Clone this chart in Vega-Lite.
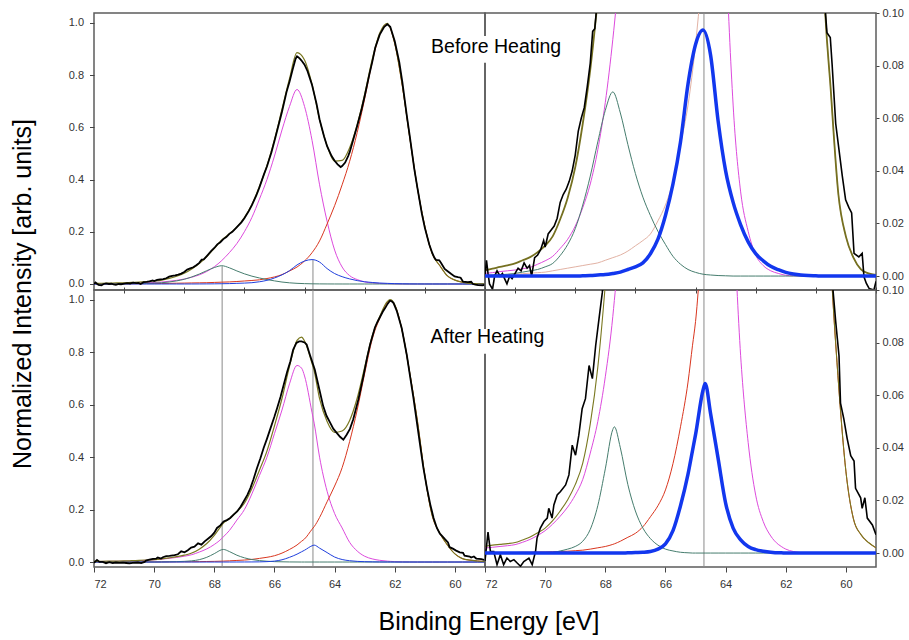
{
  "$schema": "https://vega.github.io/schema/vega-lite/v6.json",
  "background": "white",
  "padding": {"left": 9, "top": 6, "right": 0, "bottom": 0},
  "config": {
    "font": "Liberation Sans",
    "view": {"stroke": "#5c5c5c", "strokeWidth": 1.5},
    "axis": {
      "labelFont": "Liberation Sans",
      "labelFontSize": 11,
      "labelColor": "#333333",
      "tickColor": "#444444",
      "tickWidth": 1,
      "domain": false,
      "grid": false,
      "titleFont": "Liberation Sans",
      "titleFontWeight": "normal",
      "titleColor": "#000000"
    }
  },
  "datasets": {
    "markers": [
      {"e": 67.74, "peak": 0.068},
      {"e": 64.72, "peak": 0.093}
    ],
    "beforeFit": [
      {"e": 72, "fit": 0.0022, "p1": 0.001, "p2": 0.0003, "p3": 0.0001, "p4": 0},
      {"e": 71.75, "fit": 0.0028, "p1": 0.0013, "p2": 0.0004, "p3": 0.0003, "p4": 0},
      {"e": 71.5, "fit": 0.0035, "p1": 0.0017, "p2": 0.0005, "p3": 0.0005, "p4": 0},
      {"e": 71.25, "fit": 0.0041, "p1": 0.002, "p2": 0.0006, "p3": 0.0007, "p4": 0},
      {"e": 71, "fit": 0.0048, "p1": 0.0023, "p2": 0.0007, "p3": 0.001, "p4": 0},
      {"e": 70.75, "fit": 0.006, "p1": 0.0028, "p2": 0.0009, "p3": 0.0015, "p4": 0},
      {"e": 70.5, "fit": 0.0072, "p1": 0.0033, "p2": 0.0011, "p3": 0.002, "p4": 0},
      {"e": 70.25, "fit": 0.0091, "p1": 0.0045, "p2": 0.0013, "p3": 0.0025, "p4": 0},
      {"e": 70, "fit": 0.0116, "p1": 0.0058, "p2": 0.0015, "p3": 0.0035, "p4": 0},
      {"e": 69.75, "fit": 0.0151, "p1": 0.0075, "p2": 0.002, "p3": 0.0048, "p4": 0},
      {"e": 69.5, "fit": 0.0216, "p1": 0.0105, "p2": 0.0025, "p3": 0.0078, "p4": 0},
      {"e": 69.25, "fit": 0.0298, "p1": 0.014, "p2": 0.003, "p3": 0.012, "p4": 0},
      {"e": 69, "fit": 0.0413, "p1": 0.019, "p2": 0.0035, "p3": 0.018, "p4": 0},
      {"e": 68.75, "fit": 0.0579, "p1": 0.026, "p2": 0.004, "p3": 0.027, "p4": 0.0001},
      {"e": 68.5, "fit": 0.0785, "p1": 0.035, "p2": 0.0045, "p3": 0.038, "p4": 0.0002},
      {"e": 68.25, "fit": 0.1052, "p1": 0.048, "p2": 0.005, "p3": 0.051, "p4": 0.0004},
      {"e": 68, "fit": 0.1364, "p1": 0.066, "p2": 0.006, "p3": 0.063, "p4": 0.0006},
      {"e": 67.75, "fit": 0.1688, "p1": 0.09, "p2": 0.007, "p3": 0.07, "p4": 0.001},
      {"e": 67.5, "fit": 0.1923, "p1": 0.12, "p2": 0.008, "p3": 0.062, "p4": 0.0015},
      {"e": 67.25, "fit": 0.2178, "p1": 0.155, "p2": 0.0095, "p3": 0.05, "p4": 0.0025},
      {"e": 67, "fit": 0.2548, "p1": 0.2, "p2": 0.0115, "p3": 0.039, "p4": 0.0035},
      {"e": 66.75, "fit": 0.3043, "p1": 0.255, "p2": 0.0135, "p3": 0.03, "p4": 0.005},
      {"e": 66.5, "fit": 0.3733, "p1": 0.325, "p2": 0.016, "p3": 0.023, "p4": 0.0085},
      {"e": 66.25, "fit": 0.4528, "p1": 0.4, "p2": 0.021, "p3": 0.017, "p4": 0.014},
      {"e": 66, "fit": 0.5528, "p1": 0.49, "p2": 0.027, "p3": 0.012, "p4": 0.023},
      {"e": 65.75, "fit": 0.6693, "p1": 0.59, "p2": 0.036, "p3": 0.0075, "p4": 0.035},
      {"e": 65.5, "fit": 0.7863, "p1": 0.68, "p2": 0.05, "p3": 0.0045, "p4": 0.051},
      {"e": 65.25, "fit": 0.8863, "p1": 0.745, "p2": 0.065, "p3": 0.0025, "p4": 0.073},
      {"e": 65, "fit": 0.8582, "p1": 0.68, "p2": 0.088, "p3": 0.0014, "p4": 0.088},
      {"e": 64.75, "fit": 0.7646, "p1": 0.55, "p2": 0.12, "p3": 0.0007, "p4": 0.0935},
      {"e": 64.5, "fit": 0.6298, "p1": 0.38, "p2": 0.165, "p3": 0.0004, "p4": 0.084},
      {"e": 64.25, "fit": 0.5296, "p1": 0.24, "p2": 0.23, "p3": 0.0002, "p4": 0.059},
      {"e": 64, "fit": 0.4705, "p1": 0.13, "p2": 0.3, "p3": 0.0001, "p4": 0.04},
      {"e": 63.75, "fit": 0.4734, "p1": 0.065, "p2": 0.38, "p3": 0, "p4": 0.028},
      {"e": 63.5, "fit": 0.5219, "p1": 0.032, "p2": 0.47, "p3": 0, "p4": 0.0195},
      {"e": 63.25, "fit": 0.6104, "p1": 0.017, "p2": 0.58, "p3": 0, "p4": 0.013},
      {"e": 63, "fit": 0.7269, "p1": 0.008, "p2": 0.71, "p3": 0, "p4": 0.0085},
      {"e": 62.75, "fit": 0.8602, "p1": 0.004, "p2": 0.85, "p3": 0, "p4": 0.0058},
      {"e": 62.5, "fit": 0.9611, "p1": 0.002, "p2": 0.955, "p3": 0, "p4": 0.0037},
      {"e": 62.25, "fit": 0.9988, "p1": 0.001, "p2": 0.995, "p3": 0, "p4": 0.0024},
      {"e": 62, "fit": 0.9221, "p1": 0.0003, "p2": 0.92, "p3": 0, "p4": 0.0014},
      {"e": 61.75, "fit": 0.7613, "p1": 0.0001, "p2": 0.76, "p3": 0, "p4": 0.0008},
      {"e": 61.5, "fit": 0.5604, "p1": 0, "p2": 0.56, "p3": 0, "p4": 0.0004},
      {"e": 61.25, "fit": 0.3702, "p1": 0, "p2": 0.37, "p3": 0, "p4": 0.0002},
      {"e": 61, "fit": 0.2201, "p1": 0, "p2": 0.22, "p3": 0, "p4": 0.0001},
      {"e": 60.75, "fit": 0.115, "p1": 0, "p2": 0.115, "p3": 0, "p4": 0},
      {"e": 60.5, "fit": 0.07, "p1": 0, "p2": 0.07, "p3": 0, "p4": 0},
      {"e": 60.25, "fit": 0.031, "p1": 0, "p2": 0.031, "p3": 0, "p4": 0},
      {"e": 60, "fit": 0.015, "p1": 0, "p2": 0.015, "p3": 0, "p4": 0},
      {"e": 59.75, "fit": 0.007, "p1": 0, "p2": 0.007, "p3": 0, "p4": 0},
      {"e": 59.5, "fit": 0.0025, "p1": 0, "p2": 0.0025, "p3": 0, "p4": 0},
      {"e": 59.25, "fit": 0.001, "p1": 0, "p2": 0.001, "p3": 0, "p4": 0},
      {"e": 59, "fit": 0.0004, "p1": 0, "p2": 0.0004, "p3": 0, "p4": 0}
    ],
    "beforeData": [
      {"e": 72, "v": 0}, {"e": 71.95, "v": 0.006}, {"e": 71.9, "v": 0.001}, {"e": 71.85, "v": -0.003},
      {"e": 71.75, "v": -0.005}, {"e": 71.68, "v": 0}, {"e": 71.6, "v": 0.002}, {"e": 71.5, "v": 0},
      {"e": 71.42, "v": 0.001}, {"e": 71.35, "v": -0.001}, {"e": 71.27, "v": -0.003}, {"e": 71.18, "v": 0},
      {"e": 71.1, "v": -0.001}, {"e": 71, "v": 0.001}, {"e": 70.9, "v": 0.003}, {"e": 70.8, "v": 0.002},
      {"e": 70.7, "v": 0.005}, {"e": 70.6, "v": 0.003}, {"e": 70.52, "v": 0.004}, {"e": 70.45, "v": 0},
      {"e": 70.35, "v": 0.007}, {"e": 70.25, "v": 0.008}, {"e": 70.15, "v": 0.01}, {"e": 70.05, "v": 0.0135},
      {"e": 70, "v": 0.011}, {"e": 69.9, "v": 0.016}, {"e": 69.8, "v": 0.0175}, {"e": 69.7, "v": 0.019},
      {"e": 69.6, "v": 0.022}, {"e": 69.5, "v": 0.028}, {"e": 69.4, "v": 0.031}, {"e": 69.3, "v": 0.033},
      {"e": 69.2, "v": 0.036}, {"e": 69.1, "v": 0.04}, {"e": 69, "v": 0.046}, {"e": 68.9, "v": 0.055},
      {"e": 68.8, "v": 0.06}, {"e": 68.7, "v": 0.064}, {"e": 68.6, "v": 0.072}, {"e": 68.5, "v": 0.081},
      {"e": 68.42, "v": 0.093}, {"e": 68.35, "v": 0.094}, {"e": 68.25, "v": 0.107}, {"e": 68.1, "v": 0.127},
      {"e": 68, "v": 0.138}, {"e": 67.9, "v": 0.152}, {"e": 67.8, "v": 0.16}, {"e": 67.7, "v": 0.172},
      {"e": 67.6, "v": 0.18}, {"e": 67.5, "v": 0.192}, {"e": 67.4, "v": 0.2}, {"e": 67.25, "v": 0.218},
      {"e": 67.1, "v": 0.236}, {"e": 67, "v": 0.252}, {"e": 66.85, "v": 0.28}, {"e": 66.75, "v": 0.302},
      {"e": 66.6, "v": 0.34}, {"e": 66.5, "v": 0.37}, {"e": 66.35, "v": 0.42}, {"e": 66.25, "v": 0.45},
      {"e": 66.1, "v": 0.505}, {"e": 66, "v": 0.548}, {"e": 65.85, "v": 0.615}, {"e": 65.75, "v": 0.66},
      {"e": 65.6, "v": 0.735}, {"e": 65.5, "v": 0.775}, {"e": 65.4, "v": 0.82}, {"e": 65.3, "v": 0.862},
      {"e": 65.25, "v": 0.872}, {"e": 65.2, "v": 0.868}, {"e": 65.15, "v": 0.862}, {"e": 65.1, "v": 0.856},
      {"e": 65, "v": 0.84}, {"e": 64.9, "v": 0.815}, {"e": 64.75, "v": 0.762}, {"e": 64.6, "v": 0.69},
      {"e": 64.5, "v": 0.63}, {"e": 64.35, "v": 0.565}, {"e": 64.25, "v": 0.528}, {"e": 64.1, "v": 0.49},
      {"e": 64, "v": 0.472}, {"e": 63.9, "v": 0.458}, {"e": 63.8, "v": 0.448}, {"e": 63.75, "v": 0.452},
      {"e": 63.65, "v": 0.465}, {"e": 63.55, "v": 0.49}, {"e": 63.5, "v": 0.505}, {"e": 63.4, "v": 0.545},
      {"e": 63.25, "v": 0.605}, {"e": 63.1, "v": 0.67}, {"e": 63, "v": 0.72}, {"e": 62.85, "v": 0.8},
      {"e": 62.75, "v": 0.85}, {"e": 62.65, "v": 0.905}, {"e": 62.5, "v": 0.955}, {"e": 62.35, "v": 0.985},
      {"e": 62.25, "v": 0.995}, {"e": 62.15, "v": 0.985}, {"e": 62, "v": 0.93}, {"e": 61.85, "v": 0.85},
      {"e": 61.75, "v": 0.775}, {"e": 61.6, "v": 0.645}, {"e": 61.5, "v": 0.565}, {"e": 61.35, "v": 0.44},
      {"e": 61.25, "v": 0.37}, {"e": 61.1, "v": 0.27}, {"e": 61, "v": 0.215}, {"e": 60.85, "v": 0.15},
      {"e": 60.75, "v": 0.118}, {"e": 60.68, "v": 0.1}, {"e": 60.63, "v": 0.0925}, {"e": 60.52, "v": 0.0907},
      {"e": 60.46, "v": 0.0806}, {"e": 60.34, "v": 0.058}, {"e": 60.23, "v": 0.048}, {"e": 60.12, "v": 0.038},
      {"e": 60.01, "v": 0.029}, {"e": 59.9, "v": 0.026}, {"e": 59.81, "v": 0.024}, {"e": 59.73, "v": 0.0086},
      {"e": 59.57, "v": 0.0073}, {"e": 59.46, "v": 0.0086}, {"e": 59.4, "v": -0.0003}, {"e": 59.32, "v": -0.0028},
      {"e": 59.23, "v": -0.0047}, {"e": 59.07, "v": -0.0053}, {"e": 59, "v": -0.002}
    ],
    "afterFit": [
      {"e": 72, "fit": 0.0026, "p1": 0.0019, "p2": 0.0001, "p3": 0, "p4": 0},
      {"e": 71.75, "fit": 0.003, "p1": 0.0022, "p2": 0.0002, "p3": 0, "p4": 0},
      {"e": 71.5, "fit": 0.0033, "p1": 0.0025, "p2": 0.0002, "p3": 0, "p4": 0},
      {"e": 71.25, "fit": 0.0036, "p1": 0.0028, "p2": 0.0002, "p3": 0, "p4": 0},
      {"e": 71, "fit": 0.004, "p1": 0.0032, "p2": 0.0002, "p3": 0, "p4": 0},
      {"e": 70.75, "fit": 0.005, "p1": 0.0041, "p2": 0.0003, "p3": 0, "p4": 0},
      {"e": 70.5, "fit": 0.0061, "p1": 0.0052, "p2": 0.0003, "p3": 0, "p4": 0},
      {"e": 70.25, "fit": 0.0077, "p1": 0.0067, "p2": 0.0004, "p3": 0, "p4": 0},
      {"e": 70, "fit": 0.0095, "p1": 0.0085, "p2": 0.0004, "p3": 0, "p4": 0},
      {"e": 69.75, "fit": 0.0123, "p1": 0.011, "p2": 0.0005, "p3": 0.0002, "p4": 0},
      {"e": 69.5, "fit": 0.016, "p1": 0.014, "p2": 0.0006, "p3": 0.0008, "p4": 0},
      {"e": 69.25, "fit": 0.0203, "p1": 0.0175, "p2": 0.0007, "p3": 0.0015, "p4": 0},
      {"e": 69, "fit": 0.026, "p1": 0.022, "p2": 0.0009, "p3": 0.0025, "p4": 0},
      {"e": 68.75, "fit": 0.0342, "p1": 0.028, "p2": 0.0011, "p3": 0.0045, "p4": 0},
      {"e": 68.5, "fit": 0.0491, "p1": 0.038, "p2": 0.0015, "p3": 0.009, "p4": 0},
      {"e": 68.25, "fit": 0.0706, "p1": 0.05, "p2": 0.002, "p3": 0.018, "p4": 0},
      {"e": 68, "fit": 0.1021, "p1": 0.067, "p2": 0.0025, "p3": 0.032, "p4": 0},
      {"e": 67.75, "fit": 0.1409, "p1": 0.09, "p2": 0.0033, "p3": 0.047, "p4": 0},
      {"e": 67.7, "fit": 0.1481, "p1": 0.096, "p2": 0.0035, "p3": 0.048, "p4": 0},
      {"e": 67.5, "fit": 0.1651, "p1": 0.12, "p2": 0.0045, "p3": 0.04, "p4": 0},
      {"e": 67.25, "fit": 0.1927, "p1": 0.16, "p2": 0.006, "p3": 0.026, "p4": 0.0001},
      {"e": 67, "fit": 0.2243, "p1": 0.2, "p2": 0.0075, "p3": 0.016, "p4": 0.0002},
      {"e": 66.75, "fit": 0.2804, "p1": 0.26, "p2": 0.01, "p3": 0.0095, "p4": 0.0003},
      {"e": 66.5, "fit": 0.3505, "p1": 0.33, "p2": 0.0138, "p3": 0.0055, "p4": 0.0006},
      {"e": 66.25, "fit": 0.4231, "p1": 0.4, "p2": 0.018, "p3": 0.003, "p4": 0.0015},
      {"e": 66, "fit": 0.5196, "p1": 0.49, "p2": 0.024, "p3": 0.0015, "p4": 0.0035},
      {"e": 65.75, "fit": 0.6239, "p1": 0.58, "p2": 0.034, "p3": 0.0008, "p4": 0.0085},
      {"e": 65.5, "fit": 0.7469, "p1": 0.68, "p2": 0.048, "p3": 0.0003, "p4": 0.018},
      {"e": 65.25, "fit": 0.8457, "p1": 0.75, "p2": 0.065, "p3": 0.0001, "p4": 0.03},
      {"e": 65.1, "fit": 0.8583, "p1": 0.74, "p2": 0.079, "p3": 0, "p4": 0.039},
      {"e": 65, "fit": 0.8433, "p1": 0.71, "p2": 0.088, "p3": 0, "p4": 0.045},
      {"e": 64.75, "fit": 0.7573, "p1": 0.57, "p2": 0.125, "p3": 0, "p4": 0.062},
      {"e": 64.68, "fit": 0.7298, "p1": 0.53, "p2": 0.135, "p3": 0, "p4": 0.0645},
      {"e": 64.5, "fit": 0.6233, "p1": 0.4, "p2": 0.17, "p3": 0, "p4": 0.053},
      {"e": 64.25, "fit": 0.5363, "p1": 0.27, "p2": 0.23, "p3": 0, "p4": 0.036},
      {"e": 64, "fit": 0.4943, "p1": 0.185, "p2": 0.29, "p3": 0, "p4": 0.019},
      {"e": 63.75, "fit": 0.4998, "p1": 0.13, "p2": 0.36, "p3": 0, "p4": 0.0095},
      {"e": 63.5, "fit": 0.5403, "p1": 0.075, "p2": 0.46, "p3": 0, "p4": 0.005},
      {"e": 63.25, "fit": 0.6248, "p1": 0.042, "p2": 0.58, "p3": 0, "p4": 0.0025},
      {"e": 63, "fit": 0.7436, "p1": 0.022, "p2": 0.72, "p3": 0, "p4": 0.0013},
      {"e": 62.75, "fit": 0.863, "p1": 0.012, "p2": 0.85, "p3": 0, "p4": 0.0007},
      {"e": 62.5, "fit": 0.9371, "p1": 0.0065, "p2": 0.93, "p3": 0, "p4": 0.0003},
      {"e": 62.25, "fit": 0.9937, "p1": 0.0033, "p2": 0.99, "p3": 0, "p4": 0.0001},
      {"e": 62.15, "fit": 1.001, "p1": 0.0025, "p2": 0.998, "p3": 0, "p4": 0.0001},
      {"e": 62, "fit": 0.9818, "p1": 0.0015, "p2": 0.98, "p3": 0, "p4": 0},
      {"e": 61.75, "fit": 0.8806, "p1": 0.0006, "p2": 0.88, "p3": 0, "p4": 0},
      {"e": 61.5, "fit": 0.7202, "p1": 0.0002, "p2": 0.72, "p3": 0, "p4": 0},
      {"e": 61.25, "fit": 0.54, "p1": 0, "p2": 0.54, "p3": 0, "p4": 0},
      {"e": 61, "fit": 0.33, "p1": 0, "p2": 0.33, "p3": 0, "p4": 0},
      {"e": 60.75, "fit": 0.175, "p1": 0, "p2": 0.175, "p3": 0, "p4": 0},
      {"e": 60.5, "fit": 0.11, "p1": 0, "p2": 0.11, "p3": 0, "p4": 0},
      {"e": 60.25, "fit": 0.065, "p1": 0, "p2": 0.065, "p3": 0, "p4": 0},
      {"e": 60, "fit": 0.031, "p1": 0, "p2": 0.031, "p3": 0, "p4": 0},
      {"e": 59.75, "fit": 0.013, "p1": 0, "p2": 0.013, "p3": 0, "p4": 0},
      {"e": 59.5, "fit": 0.007, "p1": 0, "p2": 0.007, "p3": 0, "p4": 0},
      {"e": 59.25, "fit": 0.004, "p1": 0, "p2": 0.004, "p3": 0, "p4": 0},
      {"e": 59, "fit": 0.002, "p1": 0, "p2": 0.002, "p3": 0, "p4": 0}
    ],
    "afterData": [
      {"e": 72, "v": -0.003}, {"e": 71.9, "v": 0.008}, {"e": 71.82, "v": 0.0006}, {"e": 71.71, "v": 0.0006},
      {"e": 71.6, "v": -0.0044}, {"e": 71.49, "v": -0.0006}, {"e": 71.38, "v": -0.0044}, {"e": 71.27, "v": -0.0019},
      {"e": 71.16, "v": -0.0032}, {"e": 71.04, "v": -0.0025}, {"e": 70.93, "v": -0.0038}, {"e": 70.82, "v": -0.005},
      {"e": 70.71, "v": -0.0032}, {"e": 70.54, "v": -0.0019}, {"e": 70.43, "v": -0.0044}, {"e": 70.32, "v": 0.0006},
      {"e": 70.27, "v": 0.0057}, {"e": 70.16, "v": 0.0095}, {"e": 70.04, "v": 0.012}, {"e": 69.93, "v": 0.0133},
      {"e": 69.88, "v": 0.017}, {"e": 69.77, "v": 0.0133}, {"e": 69.71, "v": 0.0183}, {"e": 69.6, "v": 0.0221},
      {"e": 69.49, "v": 0.0234}, {"e": 69.32, "v": 0.0259}, {"e": 69.21, "v": 0.0297}, {"e": 69.1, "v": 0.041},
      {"e": 68.99, "v": 0.0372}, {"e": 68.88, "v": 0.0448}, {"e": 68.77, "v": 0.0549}, {"e": 68.66, "v": 0.0587},
      {"e": 68.54, "v": 0.0713}, {"e": 68.43, "v": 0.0663}, {"e": 68.32, "v": 0.0789}, {"e": 68.21, "v": 0.089},
      {"e": 68.1, "v": 0.099}, {"e": 68, "v": 0.112}, {"e": 67.91, "v": 0.13}, {"e": 67.8, "v": 0.14},
      {"e": 67.69, "v": 0.155}, {"e": 67.58, "v": 0.16}, {"e": 67.47, "v": 0.168}, {"e": 67.35, "v": 0.182},
      {"e": 67.24, "v": 0.193}, {"e": 67.12, "v": 0.212}, {"e": 67.02, "v": 0.232}, {"e": 66.9, "v": 0.256},
      {"e": 66.8, "v": 0.282}, {"e": 66.7, "v": 0.315}, {"e": 66.58, "v": 0.359}, {"e": 66.47, "v": 0.395},
      {"e": 66.36, "v": 0.435}, {"e": 66.25, "v": 0.47}, {"e": 66.13, "v": 0.511}, {"e": 66, "v": 0.555},
      {"e": 65.91, "v": 0.588}, {"e": 65.8, "v": 0.63}, {"e": 65.69, "v": 0.677}, {"e": 65.58, "v": 0.725},
      {"e": 65.47, "v": 0.766}, {"e": 65.38, "v": 0.81}, {"e": 65.27, "v": 0.836}, {"e": 65.18, "v": 0.842},
      {"e": 65.1, "v": 0.842}, {"e": 65, "v": 0.838}, {"e": 64.93, "v": 0.83}, {"e": 64.82, "v": 0.79},
      {"e": 64.66, "v": 0.735}, {"e": 64.49, "v": 0.65}, {"e": 64.38, "v": 0.595}, {"e": 64.27, "v": 0.558},
      {"e": 64.15, "v": 0.532}, {"e": 64.04, "v": 0.508}, {"e": 63.93, "v": 0.493}, {"e": 63.82, "v": 0.478},
      {"e": 63.71, "v": 0.467}, {"e": 63.6, "v": 0.486}, {"e": 63.49, "v": 0.508}, {"e": 63.38, "v": 0.545},
      {"e": 63.21, "v": 0.62}, {"e": 63.04, "v": 0.71}, {"e": 62.92, "v": 0.78}, {"e": 62.82, "v": 0.83},
      {"e": 62.66, "v": 0.895}, {"e": 62.58, "v": 0.915}, {"e": 62.49, "v": 0.935}, {"e": 62.4, "v": 0.955},
      {"e": 62.32, "v": 0.969}, {"e": 62.24, "v": 0.985}, {"e": 62.16, "v": 0.997}, {"e": 62.1, "v": 0.995},
      {"e": 62.04, "v": 0.988}, {"e": 61.93, "v": 0.957}, {"e": 61.77, "v": 0.893}, {"e": 61.6, "v": 0.79},
      {"e": 61.5, "v": 0.715}, {"e": 61.38, "v": 0.626}, {"e": 61.28, "v": 0.545}, {"e": 61.16, "v": 0.448},
      {"e": 61.05, "v": 0.36}, {"e": 60.93, "v": 0.282}, {"e": 60.82, "v": 0.22}, {"e": 60.71, "v": 0.168},
      {"e": 60.6, "v": 0.13}, {"e": 60.5, "v": 0.108}, {"e": 60.43, "v": 0.1}, {"e": 60.34, "v": 0.088},
      {"e": 60.23, "v": 0.075}, {"e": 60.18, "v": 0.057}, {"e": 60.07, "v": 0.051}, {"e": 59.96, "v": 0.0436},
      {"e": 59.84, "v": 0.037}, {"e": 59.73, "v": 0.035}, {"e": 59.68, "v": 0.0246}, {"e": 59.51, "v": 0.021},
      {"e": 59.46, "v": 0.017}, {"e": 59.37, "v": 0.021}, {"e": 59.29, "v": 0.0133}, {"e": 59.12, "v": 0.0107},
      {"e": 59, "v": 0.007}
    ]
  },
  "columns": 2,
  "spacing": 0,
  "bounds": "flush",
  "resolve": {"scale": {"x": "independent", "y": "independent"}, "axis": {"x": "independent", "y": "independent"}},
  "concat": [
    {
      "width": 391,
      "height": 277,
      "layer": [
        {
          "data": {"name": "markers"},
          "mark": {"type": "rule", "color": "#8a8a8a", "strokeWidth": 1},
          "encoding": {
            "x": {"field": "e", "type": "quantitative", "scale": {"domain": [59, 72], "reverse": true, "nice": false, "zero": false},
              "axis": {"values": [72, 71, 70, 69, 68, 67, 66, 65, 64, 63, 62, 61, 60, 59], "labels": false, "title": null,
                "tickSize": {"condition": {"test": "datum.value % 2 === 0", "value": 5}, "value": 3}}},
            "y": {"field": "peak", "type": "quantitative", "scale": {"domain": [-0.023, 1.038], "nice": false, "zero": false},
              "axis": {"values": [0, 0.1, 0.2, 0.3, 0.4, 0.5, 0.6, 0.7, 0.8, 0.9, 1],
                "labelExpr": "round(datum.value * 10) % 2 === 0 ? format(datum.value, '.1f') : ''",
                "tickSize": {"condition": {"test": "round(datum.value * 10) % 2 === 0", "value": 4.5}, "value": 3},
                "labelPadding": 6,
                "title": "Normalized Intensity [arb. units]", "titleFontSize": 25, "titleX": -72, "titleY": 280.5,
                "titleAngle": -90, "titleAlign": "center", "titleBaseline": "middle"}},
            "y2": {"datum": -0.023}
          }
        },
        {
          "data": {"name": "beforeFit"},
          "mark": {"type": "line", "color": "#dd4add", "strokeWidth": 1, "interpolate": "monotone", "clip": true},
          "encoding": {
            "x": {"field": "e", "type": "quantitative", "scale": {"domain": [59, 72], "reverse": true, "nice": false, "zero": false}},
            "y": {"field": "p1", "type": "quantitative", "scale": {"domain": [-0.023, 1.038], "nice": false, "zero": false}}
          }
        },
        {
          "data": {"name": "beforeFit"},
          "mark": {"type": "line", "color": "#d9361f", "strokeWidth": 1, "interpolate": "monotone", "clip": true},
          "encoding": {
            "x": {"field": "e", "type": "quantitative", "scale": {"domain": [59, 72], "reverse": true, "nice": false, "zero": false}},
            "y": {"field": "p2", "type": "quantitative", "scale": {"domain": [-0.023, 1.038], "nice": false, "zero": false}}
          }
        },
        {
          "data": {"name": "beforeFit"},
          "mark": {"type": "line", "color": "#467d6e", "strokeWidth": 1, "interpolate": "monotone", "clip": true},
          "encoding": {
            "x": {"field": "e", "type": "quantitative", "scale": {"domain": [59, 72], "reverse": true, "nice": false, "zero": false}},
            "y": {"field": "p3", "type": "quantitative", "scale": {"domain": [-0.023, 1.038], "nice": false, "zero": false}}
          }
        },
        {
          "data": {"name": "beforeFit"},
          "mark": {"type": "line", "color": "#1f3fdd", "strokeWidth": 1, "interpolate": "monotone", "clip": true},
          "encoding": {
            "x": {"field": "e", "type": "quantitative", "scale": {"domain": [59, 72], "reverse": true, "nice": false, "zero": false}},
            "y": {"field": "p4", "type": "quantitative", "scale": {"domain": [-0.023, 1.038], "nice": false, "zero": false}}
          }
        },
        {
          "data": {"name": "beforeFit"},
          "mark": {"type": "line", "color": "#7a7820", "strokeWidth": 1.2, "interpolate": "monotone", "clip": true},
          "encoding": {
            "x": {"field": "e", "type": "quantitative", "scale": {"domain": [59, 72], "reverse": true, "nice": false, "zero": false}},
            "y": {"field": "fit", "type": "quantitative", "scale": {"domain": [-0.023, 1.038], "nice": false, "zero": false}}
          }
        },
        {
          "data": {"name": "beforeData"},
          "mark": {"type": "line", "color": "#000000", "strokeWidth": 1.8, "clip": true},
          "encoding": {
            "x": {"field": "e", "type": "quantitative", "scale": {"domain": [59, 72], "reverse": true, "nice": false, "zero": false}},
            "y": {"field": "v", "type": "quantitative", "scale": {"domain": [-0.023, 1.038], "nice": false, "zero": false}}
          }
        }
      ]
    },
    {
      "width": 391,
      "height": 277,
      "layer": [
        {
          "data": {"name": "markers"},
          "transform": [{"filter": "datum.e < 66"}],
          "mark": {"type": "rule", "color": "#8a8a8a", "strokeWidth": 1},
          "encoding": {
            "x": {"field": "e", "type": "quantitative", "scale": {"domain": [59, 72], "reverse": true, "nice": false, "zero": false},
              "axis": {"values": [72, 71, 70, 69, 68, 67, 66, 65, 64, 63, 62, 61, 60, 59], "labels": false, "title": null,
                "tickSize": {"condition": {"test": "datum.value % 2 === 0", "value": 5}, "value": 3}}}
          }
        },
        {
          "data": {"name": "beforeFit"},
          "mark": {"type": "line", "color": "#dd4add", "strokeWidth": 1, "interpolate": "monotone", "clip": true},
          "encoding": {
            "x": {"field": "e", "type": "quantitative", "scale": {"domain": [59, 72], "reverse": true, "nice": false, "zero": false}},
            "y": {"field": "p1", "type": "quantitative", "scale": {"domain": [-0.0053, 0.1], "nice": false, "zero": false},
              "axis": {"orient": "right", "values": [0, 0.02, 0.04, 0.06, 0.08, 0.1], "format": ".2f", "tickSize": 3, "labelPadding": 3, "title": null}}
          }
        },
        {
          "data": {"name": "beforeFit"},
          "mark": {"type": "line", "color": "#e2b2a4", "strokeWidth": 1, "interpolate": "monotone", "clip": true},
          "encoding": {
            "x": {"field": "e", "type": "quantitative", "scale": {"domain": [59, 72], "reverse": true, "nice": false, "zero": false}},
            "y": {"field": "p2", "type": "quantitative", "scale": {"domain": [-0.0053, 0.1], "nice": false, "zero": false}}
          }
        },
        {
          "data": {"name": "beforeFit"},
          "mark": {"type": "line", "color": "#467d6e", "strokeWidth": 1, "interpolate": "monotone", "clip": true},
          "encoding": {
            "x": {"field": "e", "type": "quantitative", "scale": {"domain": [59, 72], "reverse": true, "nice": false, "zero": false}},
            "y": {"field": "p3", "type": "quantitative", "scale": {"domain": [-0.0053, 0.1], "nice": false, "zero": false}}
          }
        },
        {
          "data": {"name": "beforeFit"},
          "mark": {"type": "line", "color": "#757020", "strokeWidth": 1.8, "interpolate": "monotone", "clip": true},
          "encoding": {
            "x": {"field": "e", "type": "quantitative", "scale": {"domain": [59, 72], "reverse": true, "nice": false, "zero": false}},
            "y": {"field": "fit", "type": "quantitative", "scale": {"domain": [-0.0053, 0.1], "nice": false, "zero": false}}
          }
        },
        {
          "data": {"name": "beforeData"},
          "mark": {"type": "line", "color": "#000000", "strokeWidth": 1.6, "clip": true},
          "encoding": {
            "x": {"field": "e", "type": "quantitative", "scale": {"domain": [59, 72], "reverse": true, "nice": false, "zero": false}},
            "y": {"field": "v", "type": "quantitative", "scale": {"domain": [-0.0053, 0.1], "nice": false, "zero": false}}
          }
        },
        {
          "data": {"name": "beforeFit"},
          "mark": {"type": "line", "color": "#1237ee", "strokeWidth": 3.5, "interpolate": "monotone", "clip": true},
          "encoding": {
            "x": {"field": "e", "type": "quantitative", "scale": {"domain": [59, 72], "reverse": true, "nice": false, "zero": false}},
            "y": {"field": "p4", "type": "quantitative", "scale": {"domain": [-0.0053, 0.1], "nice": false, "zero": false}}
          }
        },
        {
          "data": {"values": [{}]},
          "mark": {"type": "rect", "color": "#ffffff", "clip": false},
          "encoding": {
            "x": {"datum": 73, "type": "quantitative", "scale": {"domain": [59, 72], "reverse": true, "nice": false, "zero": false}},
            "x2": {"datum": 71},
            "y": {"datum": 0.0811, "type": "quantitative", "scale": {"domain": [-0.0053, 0.1], "nice": false, "zero": false}},
            "y2": {"datum": 0.0913}
          }
        },
        {
          "data": {"values": [{}]},
          "mark": {"type": "text", "text": "Before Heating", "font": "Liberation Sans", "fontSize": 19.5, "color": "#000000", "align": "center", "baseline": "middle", "clip": false},
          "encoding": {
            "x": {"datum": 71.63, "type": "quantitative", "scale": {"domain": [59, 72], "reverse": true, "nice": false, "zero": false}},
            "y": {"datum": 0.0869, "type": "quantitative", "scale": {"domain": [-0.0053, 0.1], "nice": false, "zero": false}}
          }
        }
      ]
    },
    {
      "width": 391,
      "height": 277,
      "resolve": {"axis": {"x": "independent"}},
      "layer": [
        {
          "data": {"name": "markers"},
          "mark": {"type": "rule", "color": "#8a8a8a", "strokeWidth": 1},
          "encoding": {
            "x": {"field": "e", "type": "quantitative", "scale": {"domain": [59, 72], "reverse": true, "nice": false, "zero": false},
              "axis": {"values": [72, 70, 68, 66, 64, 62, 60], "labelPadding": 6, "tickSize": 5,
                "title": "Binding Energy [eV]", "titleFontSize": 25, "titleX": 394.5, "titleY": 54,
                "titleAlign": "center", "titleBaseline": "middle"}}
          }
        },
        {
          "data": {"name": "afterFit"},
          "mark": {"type": "line", "color": "#dd4add", "strokeWidth": 1, "interpolate": "monotone", "clip": true},
          "encoding": {
            "x": {"field": "e", "type": "quantitative", "scale": {"domain": [59, 72], "reverse": true, "nice": false, "zero": false},
              "axis": {"values": [71, 69, 67, 65, 63, 61, 59], "labels": false, "tickSize": 3, "title": null}},
            "y": {"field": "p1", "type": "quantitative", "scale": {"domain": [-0.019, 1.038], "nice": false, "zero": false},
              "axis": {"values": [0, 0.1, 0.2, 0.3, 0.4, 0.5, 0.6, 0.7, 0.8, 0.9, 1],
                "labelExpr": "round(datum.value * 10) % 2 === 0 ? format(datum.value, '.1f') : ''",
                "tickSize": {"condition": {"test": "round(datum.value * 10) % 2 === 0", "value": 4.5}, "value": 3},
                "labelPadding": 6, "title": null}}
          }
        },
        {
          "data": {"name": "afterFit"},
          "mark": {"type": "line", "color": "#d9361f", "strokeWidth": 1, "interpolate": "monotone", "clip": true},
          "encoding": {
            "x": {"field": "e", "type": "quantitative", "scale": {"domain": [59, 72], "reverse": true, "nice": false, "zero": false}, "axis": null},
            "y": {"field": "p2", "type": "quantitative", "scale": {"domain": [-0.019, 1.038], "nice": false, "zero": false}}
          }
        },
        {
          "data": {"name": "afterFit"},
          "mark": {"type": "line", "color": "#467d6e", "strokeWidth": 1, "interpolate": "monotone", "clip": true},
          "encoding": {
            "x": {"field": "e", "type": "quantitative", "scale": {"domain": [59, 72], "reverse": true, "nice": false, "zero": false}, "axis": null},
            "y": {"field": "p3", "type": "quantitative", "scale": {"domain": [-0.019, 1.038], "nice": false, "zero": false}}
          }
        },
        {
          "data": {"name": "afterFit"},
          "mark": {"type": "line", "color": "#1f3fdd", "strokeWidth": 1, "interpolate": "monotone", "clip": true},
          "encoding": {
            "x": {"field": "e", "type": "quantitative", "scale": {"domain": [59, 72], "reverse": true, "nice": false, "zero": false}, "axis": null},
            "y": {"field": "p4", "type": "quantitative", "scale": {"domain": [-0.019, 1.038], "nice": false, "zero": false}}
          }
        },
        {
          "data": {"name": "afterFit"},
          "mark": {"type": "line", "color": "#7a7820", "strokeWidth": 1.2, "interpolate": "monotone", "clip": true},
          "encoding": {
            "x": {"field": "e", "type": "quantitative", "scale": {"domain": [59, 72], "reverse": true, "nice": false, "zero": false}, "axis": null},
            "y": {"field": "fit", "type": "quantitative", "scale": {"domain": [-0.019, 1.038], "nice": false, "zero": false}}
          }
        },
        {
          "data": {"name": "afterData"},
          "mark": {"type": "line", "color": "#000000", "strokeWidth": 1.8, "clip": true},
          "encoding": {
            "x": {"field": "e", "type": "quantitative", "scale": {"domain": [59, 72], "reverse": true, "nice": false, "zero": false}, "axis": null},
            "y": {"field": "v", "type": "quantitative", "scale": {"domain": [-0.019, 1.038], "nice": false, "zero": false}}
          }
        }
      ]
    },
    {
      "width": 391,
      "height": 277,
      "resolve": {"axis": {"x": "independent"}},
      "layer": [
        {
          "data": {"name": "markers"},
          "transform": [{"filter": "datum.e < 66"}],
          "mark": {"type": "rule", "color": "#8a8a8a", "strokeWidth": 1},
          "encoding": {
            "x": {"field": "e", "type": "quantitative", "scale": {"domain": [59, 72], "reverse": true, "nice": false, "zero": false},
              "axis": {"values": [72, 70, 68, 66, 64, 62, 60], "labelPadding": 6, "tickSize": 5, "title": null}}
          }
        },
        {
          "data": {"name": "afterFit"},
          "mark": {"type": "line", "color": "#dd4add", "strokeWidth": 1, "interpolate": "monotone", "clip": true},
          "encoding": {
            "x": {"field": "e", "type": "quantitative", "scale": {"domain": [59, 72], "reverse": true, "nice": false, "zero": false},
              "axis": {"values": [71, 69, 67, 65, 63, 61, 59], "labels": false, "tickSize": 3, "title": null}},
            "y": {"field": "p1", "type": "quantitative", "scale": {"domain": [-0.0053, 0.1], "nice": false, "zero": false},
              "axis": {"orient": "right", "values": [0, 0.02, 0.04, 0.06, 0.08, 0.1], "format": ".2f", "tickSize": 3, "labelPadding": 3, "title": null}}
          }
        },
        {
          "data": {"name": "afterFit"},
          "mark": {"type": "line", "color": "#d9361f", "strokeWidth": 1, "interpolate": "monotone", "clip": true},
          "encoding": {
            "x": {"field": "e", "type": "quantitative", "scale": {"domain": [59, 72], "reverse": true, "nice": false, "zero": false}, "axis": null},
            "y": {"field": "p2", "type": "quantitative", "scale": {"domain": [-0.0053, 0.1], "nice": false, "zero": false}}
          }
        },
        {
          "data": {"name": "afterFit"},
          "mark": {"type": "line", "color": "#467d6e", "strokeWidth": 1, "interpolate": "monotone", "clip": true},
          "encoding": {
            "x": {"field": "e", "type": "quantitative", "scale": {"domain": [59, 72], "reverse": true, "nice": false, "zero": false}, "axis": null},
            "y": {"field": "p3", "type": "quantitative", "scale": {"domain": [-0.0053, 0.1], "nice": false, "zero": false}}
          }
        },
        {
          "data": {"name": "afterFit"},
          "mark": {"type": "line", "color": "#7a7820", "strokeWidth": 1.1, "interpolate": "monotone", "clip": true},
          "encoding": {
            "x": {"field": "e", "type": "quantitative", "scale": {"domain": [59, 72], "reverse": true, "nice": false, "zero": false}, "axis": null},
            "y": {"field": "fit", "type": "quantitative", "scale": {"domain": [-0.0053, 0.1], "nice": false, "zero": false}}
          }
        },
        {
          "data": {"name": "afterData"},
          "mark": {"type": "line", "color": "#000000", "strokeWidth": 1.6, "clip": true},
          "encoding": {
            "x": {"field": "e", "type": "quantitative", "scale": {"domain": [59, 72], "reverse": true, "nice": false, "zero": false}, "axis": null},
            "y": {"field": "v", "type": "quantitative", "scale": {"domain": [-0.0053, 0.1], "nice": false, "zero": false}}
          }
        },
        {
          "data": {"name": "afterFit"},
          "mark": {"type": "line", "color": "#1237ee", "strokeWidth": 3.5, "interpolate": "monotone", "clip": true},
          "encoding": {
            "x": {"field": "e", "type": "quantitative", "scale": {"domain": [59, 72], "reverse": true, "nice": false, "zero": false}, "axis": null},
            "y": {"field": "p4", "type": "quantitative", "scale": {"domain": [-0.0053, 0.1], "nice": false, "zero": false}}
          }
        },
        {
          "data": {"values": [{}]},
          "mark": {"type": "rect", "color": "#ffffff", "clip": false},
          "encoding": {
            "x": {"datum": 73, "type": "quantitative", "scale": {"domain": [59, 72], "reverse": true, "nice": false, "zero": false}, "axis": null},
            "x2": {"datum": 71},
            "y": {"datum": 0.0758, "type": "quantitative", "scale": {"domain": [-0.0053, 0.1], "nice": false, "zero": false}},
            "y2": {"datum": 0.0852}
          }
        },
        {
          "data": {"values": [{}]},
          "mark": {"type": "text", "text": "After Heating", "font": "Liberation Sans", "fontSize": 19.5, "color": "#000000", "align": "center", "baseline": "middle", "clip": false},
          "encoding": {
            "x": {"datum": 71.92, "type": "quantitative", "scale": {"domain": [59, 72], "reverse": true, "nice": false, "zero": false}, "axis": null},
            "y": {"datum": 0.082, "type": "quantitative", "scale": {"domain": [-0.0053, 0.1], "nice": false, "zero": false}}
          }
        }
      ]
    }
  ]
}
